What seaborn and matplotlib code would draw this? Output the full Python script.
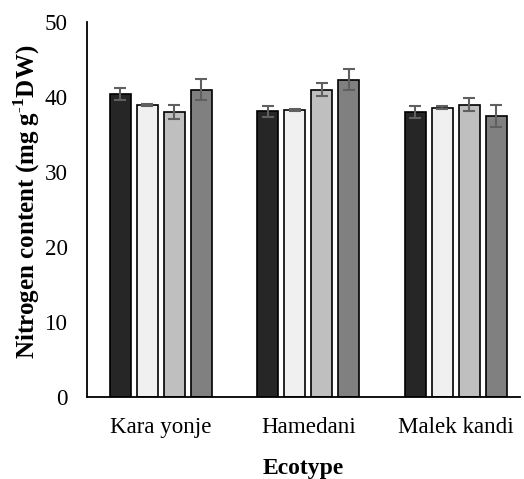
import numpy as np
import pandas as pd
import matplotlib
matplotlib.use("Agg")
import matplotlib.pyplot as plt
import seaborn as sns

ecotypes = ["Kara yonje", "Hamedani", "Malek kandi"]
treatments = ["T1", "T2", "T3", "T4"]
values_t1 = [40.4, 38.1, 38.0]
values_t2 = [38.9, 38.3, 38.6]
values_t3 = [38.0, 41.0, 39.0]
values_t4 = [41.0, 42.3, 37.5]
errors_t1 = [0.8, 0.75, 0.8]
errors_t2 = [0.15, 0.15, 0.2]
errors_t3 = [0.9, 0.9, 0.9]
errors_t4 = [1.45, 1.4, 1.45]
colors = ["#262626", "#f0f0f0", "#bfbfbf", "#808080"]

values = [values_t1, values_t2, values_t3, values_t4]
errors = [errors_t1, errors_t2, errors_t3, errors_t4]
rows = []
for t, vals, errs in zip(treatments, values, errors):
    for e, v, er in zip(ecotypes, vals, errs):
        rows.append({"Ecotype": e, "Treatment": t, "N": v, "err": er})
df = pd.DataFrame(rows)

sns.set_style("white")
plt.rcParams["font.family"] = ["Liberation Serif", "DejaVu Serif"]
plt.rcParams["mathtext.fontset"] = "custom"
plt.rcParams["mathtext.rm"] = "Liberation Serif"
plt.rcParams["mathtext.bf"] = "Liberation Serif:bold"
for k in ["text.color", "axes.labelcolor", "xtick.color", "ytick.color"]:
    plt.rcParams[k] = "black"

fig = plt.figure(figsize=(5.24, 4.79), dpi=100)
ax = fig.add_axes([87/524, 1-397/479, (520-87)/524, (397-22)/479])

sns.barplot(data=df, x="Ecotype", y="N", hue="Treatment", order=ecotypes,
            hue_order=treatments, palette=colors, errorbar=None,
            width=0.732, gap=0.22, edgecolor="black", linewidth=1.2,
            saturation=1, legend=False, ax=ax)

for cont, t in zip(ax.containers, treatments):
    sub = df[df["Treatment"] == t].set_index("Ecotype").loc[ecotypes]
    xs = [b.get_x() + b.get_width() / 2 for b in cont]
    ax.errorbar(xs, sub["N"].values, yerr=sub["err"].values, fmt="none",
                ecolor="#606060", elinewidth=1.5, capsize=4.3, capthick=1.5,
                zorder=5)

ax.set_ylim(0, 50)
ax.set_xlim(-0.5, 2.436)
ax.set_yticks([0, 10, 20, 30, 40, 50])
for s in ["top", "right"]:
    ax.spines[s].set_visible(False)
for s in ["left", "bottom"]:
    ax.spines[s].set_color("black")
    ax.spines[s].set_linewidth(1.3)
ax.tick_params(axis="y", length=0, pad=14, labelsize=16.6)
ax.tick_params(axis="x", length=0, pad=14.5, labelsize=16.6)
ax.set_xlabel("Ecotype", fontsize=17, fontweight="bold", labelpad=14)
ax.set_ylabel(r"Nitrogen content (mg g$^{\mathbf{\text{-}1}}$DW)", fontsize=18,
              fontweight="bold")
ax.yaxis.set_label_coords(-0.104, 0.521)

fig.savefig("out.png", dpi=100)
